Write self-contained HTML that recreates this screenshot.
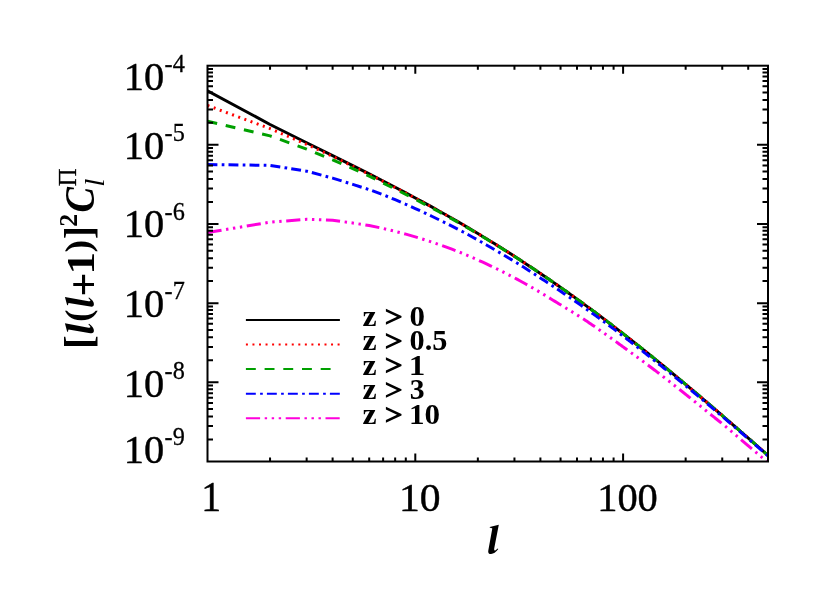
<!DOCTYPE html>
<html><head><meta charset="utf-8"><title>plot</title>
<style>
html,body{margin:0;padding:0;background:#fff;}
svg{display:block;will-change:transform;}
text{font-family:"Liberation Serif",serif;fill:#000;}
</style></head>
<body>
<svg width="830" height="593" viewBox="0 0 830 593">
<rect x="0" y="0" width="830" height="593" fill="#ffffff"/>
<defs><clipPath id="cp"><rect x="207.5" y="65.7" width="560.5" height="395.8"/></clipPath></defs>
<g clip-path="url(#cp)">
<path d="M207.50 90.70 L270.05 124.49 L306.65 142.77 L332.61 155.60 L352.75 165.62 L369.20 173.90 L383.11 181.01 L395.16 187.27 L405.79 192.87 L415.30 197.95 L423.90 202.62 L431.75 206.93 L438.98 210.96 L445.67 214.72 L451.89 218.27 L457.72 221.63 L463.19 224.81 L468.35 227.85 L473.22 230.74 L477.85 233.52 L482.26 236.18 L486.46 238.73 L490.47 241.19 L494.31 243.57 L497.99 245.86 L501.53 248.08 L504.94 250.23 L508.22 252.32 L511.39 254.34 L514.45 256.31 L517.40 258.23 L520.27 260.09 L523.05 261.91 L525.74 263.68 L528.36 265.41 L530.90 267.09 L533.37 268.74 L535.78 270.35 L538.12 271.93 L540.41 273.48 L542.64 274.99 L544.81 276.47 L546.93 277.92 L549.01 279.35 L551.04 280.75 L553.02 282.12 L554.96 283.47 L556.86 284.79 L558.72 286.09 L560.55 287.37 L562.33 288.63 L564.09 289.86 L565.80 291.08 L567.49 292.28 L569.15 293.46 L570.77 294.62 L572.37 295.76 L573.94 296.89 L575.48 298.00 L577.00 299.10 L578.49 300.18 L579.96 301.24 L581.40 302.29 L582.82 303.33 L584.22 304.35 L585.60 305.36 L586.96 306.36 L588.30 307.34 L589.61 308.31 L590.91 309.27 L592.19 310.22 L593.45 311.16 L594.70 312.08 L595.93 313.00 L597.14 313.90 L598.33 314.80 L599.51 315.68 L600.68 316.56 L601.83 317.42 L602.96 318.28 L604.08 319.12 L605.19 319.96 L606.28 320.79 L607.37 321.61 L608.43 322.42 L609.49 323.23 L610.53 324.02 L611.56 324.81 L612.58 325.59 L613.59 326.36 L614.59 327.13 L615.58 327.88 L616.55 328.64 L617.52 329.38 L618.47 330.12 L619.42 330.85 L620.35 331.57 L621.28 332.29 L622.19 333.00 L623.10 333.70 L624.00 334.40 L624.89 335.09 L625.77 335.78 L626.64 336.46 L627.50 337.14 L628.36 337.81 L629.21 338.47 L630.05 339.13 L630.88 339.78 L631.70 340.43 L632.52 341.08 L633.33 341.71 L634.13 342.35 L634.92 342.97 L635.71 343.60 L636.49 344.22 L637.27 344.83 L638.04 345.44 L638.80 346.04 L639.55 346.64 L640.30 347.24 L641.05 347.83 L641.78 348.42 L642.51 349.00 L643.24 349.58 L643.96 350.16 L644.67 350.73 L645.38 351.29 L646.08 351.86 L646.78 352.42 L647.47 352.97 L648.16 353.52 L648.84 354.07 L649.51 354.62 L650.18 355.16 L650.85 355.69 L651.51 356.23 L652.17 356.76 L652.82 357.28 L653.47 357.81 L654.11 358.33 L654.75 358.85 L655.38 359.36 L656.01 359.87 L656.63 360.38 L657.25 360.88 L657.87 361.38 L658.48 361.88 L659.09 362.38 L659.69 362.87 L660.29 363.36 L660.89 363.84 L661.48 364.33 L662.07 364.81 L662.65 365.28 L663.23 365.76 L663.81 366.23 L664.38 366.70 L664.95 367.17 L665.52 367.63 L666.08 368.10 L666.64 368.55 L667.19 369.01 L667.74 369.47 L668.29 369.92 L668.84 370.37 L669.38 370.81 L669.92 371.26 L670.45 371.70 L670.99 372.14 L671.52 372.58 L672.04 373.01 L672.57 373.44 L673.09 373.87 L673.60 374.30 L674.12 374.73 L674.63 375.15 L675.14 375.57 L675.64 375.99 L676.15 376.41 L676.65 376.83 L677.14 377.24 L677.64 377.65 L678.13 378.06 L678.62 378.47 L679.10 378.87 L679.59 379.28 L680.07 379.68 L680.55 380.08 L681.02 380.47 L681.50 380.87 L681.97 381.26 L682.44 381.65 L682.91 382.04 L683.37 382.43 L683.83 382.82 L684.29 383.20 L684.75 383.58 L685.20 383.97 L685.65 384.34 L686.10 384.72 L686.55 385.10 L687.00 385.47 L687.44 385.84 L687.88 386.21 L688.32 386.58 L688.76 386.95 L689.19 387.32 L689.63 387.68 L690.06 388.04 L690.49 388.40 L690.91 388.76 L691.34 389.12 L691.76 389.48 L692.18 389.83 L692.60 390.19 L693.02 390.54 L693.43 390.89 L693.84 391.24 L694.26 391.58 L694.66 391.93 L695.07 392.27 L695.48 392.62 L695.88 392.96 L696.28 393.30 L696.68 393.64 L697.08 393.98 L697.48 394.31 L697.87 394.65 L698.27 394.98 L698.66 395.31 L699.05 395.64 L699.44 395.97 L699.82 396.30 L700.21 396.63 L700.59 396.95 L700.97 397.28 L701.35 397.60 L701.73 397.92 L702.11 398.24 L702.48 398.56 L702.86 398.88 L703.23 399.19 L703.60 399.51 L703.97 399.82 L704.34 400.14 L704.70 400.45 L705.07 400.76 L705.43 401.07 L705.79 401.38 L706.15 401.69 L706.51 401.99 L706.87 402.30 L707.22 402.60 L707.58 402.90 L707.93 403.21 L708.28 403.51 L708.63 403.81 L708.98 404.10 L709.33 404.40 L709.68 404.70 L710.02 404.99 L710.37 405.29 L710.71 405.58 L711.05 405.87 L711.39 406.16 L711.73 406.45 L712.07 406.74 L712.40 407.03 L712.74 407.32 L713.07 407.60 L713.40 407.89 L713.73 408.17 L714.06 408.46 L714.39 408.74 L714.72 409.02 L715.05 409.30 L715.37 409.58 L715.70 409.86 L716.02 410.14 L716.34 410.41 L716.66 410.69 L716.98 410.96 L717.30 411.24 L717.62 411.51 L717.93 411.78 L718.25 412.05 L718.56 412.32 L718.87 412.59 L719.19 412.86 L719.50 413.13 L719.81 413.39 L720.12 413.66 L720.42 413.92 L720.73 414.19 L721.03 414.45 L721.34 414.71 L721.64 414.98 L721.94 415.24 L722.25 415.50 L722.55 415.76 L722.85 416.01 L723.14 416.27 L723.44 416.53 L723.74 416.78 L724.03 417.04 L724.33 417.29 L724.62 417.55 L724.91 417.80 L725.20 418.05 L725.50 418.30 L725.79 418.55 L726.07 418.80 L726.36 419.05 L726.65 419.30 L726.93 419.55 L727.22 419.79 L727.50 420.04 L727.79 420.28 L728.07 420.53 L728.35 420.77 L728.63 421.02 L728.91 421.26 L729.19 421.50 L729.47 421.74 L729.75 421.98 L730.02 422.22 L730.30 422.46 L730.57 422.70 L730.85 422.93 L731.12 423.17 L731.39 423.41 L731.66 423.64 L731.93 423.88 L732.20 424.11 L732.47 424.34 L732.74 424.58 L733.01 424.81 L733.28 425.04 L733.54 425.27 L733.81 425.50 L734.07 425.73 L734.33 425.96 L734.60 426.19 L734.86 426.42 L735.12 426.64 L735.38 426.87 L735.64 427.09 L735.90 427.32 L736.16 427.54 L736.41 427.77 L736.67 427.99 L736.93 428.21 L737.18 428.44 L737.44 428.66 L737.69 428.88 L737.94 429.10 L738.20 429.32 L738.45 429.54 L738.70 429.75 L738.95 429.97 L739.20 430.19 L739.45 430.41 L739.70 430.62 L739.94 430.84 L740.19 431.05 L740.44 431.27 L740.68 431.48 L740.93 431.69 L741.17 431.91 L741.42 432.12 L741.66 432.33 L741.90 432.54 L742.14 432.75 L742.38 432.96 L742.62 433.17 L742.86 433.38 L743.10 433.59 L743.34 433.80 L743.58 434.00 L743.82 434.21 L744.05 434.42 L744.29 434.62 L744.52 434.83 L744.76 435.03 L744.99 435.24 L745.23 435.44 L745.46 435.64 L745.69 435.85 L745.92 436.05 L746.15 436.25 L746.38 436.45 L746.61 436.65 L746.84 436.85 L747.07 437.05 L747.30 437.25 L747.53 437.45 L747.76 437.65 L747.98 437.85 L748.21 438.04 L748.43 438.24 L748.66 438.44 L748.88 438.63 L749.11 438.83 L749.33 439.02 L749.55 439.22 L749.77 439.41 L750.00 439.61 L750.22 439.80 L750.44 439.99 L750.66 440.18 L750.88 440.37 L751.09 440.57 L751.31 440.76 L751.53 440.95 L751.75 441.14 L751.96 441.33 L752.18 441.52 L752.40 441.70 L752.61 441.89 L752.83 442.08 L753.04 442.27 L753.25 442.45 L753.47 442.64 L753.68 442.83 L753.89 443.01 L754.10 443.20 L754.31 443.38 L754.52 443.57 L754.73 443.75 L754.94 443.93 L755.15 444.12 L755.36 444.30 L755.57 444.48 L755.78 444.66 L755.99 444.84 L756.19 445.03 L756.40 445.21 L756.60 445.39 L756.81 445.57 L757.01 445.75 L757.22 445.92 L757.42 446.10 L757.63 446.28 L757.83 446.46 L758.03 446.64 L758.23 446.81 L758.44 446.99 L758.64 447.17 L758.84 447.34 L759.04 447.52 L759.24 447.69 L759.44 447.87 L759.64 448.04 L759.83 448.22 L760.03 448.39 L760.23 448.56 L760.43 448.74 L760.62 448.91 L760.82 449.08 L761.02 449.25 L761.21 449.42 L761.41 449.59 L761.60 449.76 L761.80 449.93 L761.99 450.10 L762.18 450.27 L762.38 450.44 L762.57 450.61 L762.76 450.78 L762.95 450.95 L763.15 451.12 L763.34 451.28 L763.53 451.45 L763.72 451.62 L763.91 451.78 L764.10 451.95 L764.29 452.12 L764.47 452.28 L764.66 452.45 L764.85 452.61 L765.04 452.78 L765.22 452.94 L765.41 453.10 L765.60 453.27 L765.78 453.43 L765.97 453.59 L766.15 453.75 L766.34 453.92 L766.52 454.08 L766.71 454.24 L766.89 454.40 L767.07 454.56 L767.26 454.72 L767.44 454.88 L767.62 455.04 L767.80 455.20 L767.98 455.36 L768.17 455.52 L768.35 455.68" fill="none" stroke="#000000" stroke-width="3.0" stroke-linejoin="round"/>
<path d="M207.50 105.50 L270.05 128.59 L306.65 144.37 L332.61 156.38 L352.75 166.17 L369.20 174.30 L383.11 181.29 L395.16 187.48 L405.79 193.02 L415.30 198.07 L423.90 202.70 L431.75 206.99 L438.98 210.99 L445.67 214.74 L451.89 218.28 L457.72 221.63 L463.19 224.81 L468.35 227.85 L473.22 230.74 L477.85 233.52 L482.26 236.18 L486.46 238.73 L490.47 241.19 L494.31 243.57 L497.99 245.86 L501.53 248.08 L504.94 250.23 L508.22 252.32 L511.39 254.34 L514.45 256.31 L517.40 258.23 L520.27 260.09 L523.05 261.91 L525.74 263.68 L528.36 265.41 L530.90 267.09 L533.37 268.74 L535.78 270.35 L538.12 271.93 L540.41 273.48 L542.64 274.99 L544.81 276.47 L546.93 277.92 L549.01 279.35 L551.04 280.75 L553.02 282.12 L554.96 283.47 L556.86 284.79 L558.72 286.09 L560.55 287.37 L562.33 288.63 L564.09 289.86 L565.80 291.08 L567.49 292.28 L569.15 293.46 L570.77 294.62 L572.37 295.76 L573.94 296.89 L575.48 298.00 L577.00 299.10 L578.49 300.18 L579.96 301.24 L581.40 302.29 L582.82 303.33 L584.22 304.35 L585.60 305.36 L586.96 306.36 L588.30 307.34 L589.61 308.31 L590.91 309.27 L592.19 310.22 L593.45 311.16 L594.70 312.08 L595.93 313.00 L597.14 313.90 L598.33 314.80 L599.51 315.68 L600.68 316.56 L601.83 317.42 L602.96 318.28 L604.08 319.12 L605.19 319.96 L606.28 320.79 L607.37 321.61 L608.43 322.42 L609.49 323.23 L610.53 324.02 L611.56 324.81 L612.58 325.59 L613.59 326.36 L614.59 327.13 L615.58 327.88 L616.55 328.64 L617.52 329.38 L618.47 330.12 L619.42 330.85 L620.35 331.57 L621.28 332.29 L622.19 333.00 L623.10 333.70 L624.00 334.40 L624.89 335.09 L625.77 335.78 L626.64 336.46 L627.50 337.14 L628.36 337.81 L629.21 338.47 L630.05 339.13 L630.88 339.78 L631.70 340.43 L632.52 341.08 L633.33 341.71 L634.13 342.35 L634.92 342.97 L635.71 343.60 L636.49 344.22 L637.27 344.83 L638.04 345.44 L638.80 346.04 L639.55 346.64 L640.30 347.24 L641.05 347.83 L641.78 348.42 L642.51 349.00 L643.24 349.58 L643.96 350.16 L644.67 350.73 L645.38 351.29 L646.08 351.86 L646.78 352.42 L647.47 352.97 L648.16 353.52 L648.84 354.07 L649.51 354.62 L650.18 355.16 L650.85 355.69 L651.51 356.23 L652.17 356.76 L652.82 357.28 L653.47 357.81 L654.11 358.33 L654.75 358.85 L655.38 359.36 L656.01 359.87 L656.63 360.38 L657.25 360.88 L657.87 361.38 L658.48 361.88 L659.09 362.38 L659.69 362.87 L660.29 363.36 L660.89 363.84 L661.48 364.33 L662.07 364.81 L662.65 365.28 L663.23 365.76 L663.81 366.23 L664.38 366.70 L664.95 367.17 L665.52 367.63 L666.08 368.10 L666.64 368.55 L667.19 369.01 L667.74 369.47 L668.29 369.92 L668.84 370.37 L669.38 370.81 L669.92 371.26 L670.45 371.70 L670.99 372.14 L671.52 372.58 L672.04 373.01 L672.57 373.44 L673.09 373.87 L673.60 374.30 L674.12 374.73 L674.63 375.15 L675.14 375.57 L675.64 375.99 L676.15 376.41 L676.65 376.83 L677.14 377.24 L677.64 377.65 L678.13 378.06 L678.62 378.47 L679.10 378.87 L679.59 379.28 L680.07 379.68 L680.55 380.08 L681.02 380.47 L681.50 380.87 L681.97 381.26 L682.44 381.65 L682.91 382.04 L683.37 382.43 L683.83 382.82 L684.29 383.20 L684.75 383.58 L685.20 383.97 L685.65 384.34 L686.10 384.72 L686.55 385.10 L687.00 385.47 L687.44 385.84 L687.88 386.21 L688.32 386.58 L688.76 386.95 L689.19 387.32 L689.63 387.68 L690.06 388.04 L690.49 388.40 L690.91 388.76 L691.34 389.12 L691.76 389.48 L692.18 389.83 L692.60 390.19 L693.02 390.54 L693.43 390.89 L693.84 391.24 L694.26 391.58 L694.66 391.93 L695.07 392.27 L695.48 392.62 L695.88 392.96 L696.28 393.30 L696.68 393.64 L697.08 393.98 L697.48 394.31 L697.87 394.65 L698.27 394.98 L698.66 395.31 L699.05 395.64 L699.44 395.97 L699.82 396.30 L700.21 396.63 L700.59 396.95 L700.97 397.28 L701.35 397.60 L701.73 397.92 L702.11 398.24 L702.48 398.56 L702.86 398.88 L703.23 399.19 L703.60 399.51 L703.97 399.82 L704.34 400.14 L704.70 400.45 L705.07 400.76 L705.43 401.07 L705.79 401.38 L706.15 401.69 L706.51 401.99 L706.87 402.30 L707.22 402.60 L707.58 402.90 L707.93 403.21 L708.28 403.51 L708.63 403.81 L708.98 404.10 L709.33 404.40 L709.68 404.70 L710.02 404.99 L710.37 405.29 L710.71 405.58 L711.05 405.87 L711.39 406.16 L711.73 406.45 L712.07 406.74 L712.40 407.03 L712.74 407.32 L713.07 407.60 L713.40 407.89 L713.73 408.17 L714.06 408.46 L714.39 408.74 L714.72 409.02 L715.05 409.30 L715.37 409.58 L715.70 409.86 L716.02 410.14 L716.34 410.41 L716.66 410.69 L716.98 410.96 L717.30 411.24 L717.62 411.51 L717.93 411.78 L718.25 412.05 L718.56 412.32 L718.87 412.59 L719.19 412.86 L719.50 413.13 L719.81 413.39 L720.12 413.66 L720.42 413.92 L720.73 414.19 L721.03 414.45 L721.34 414.71 L721.64 414.98 L721.94 415.24 L722.25 415.50 L722.55 415.76 L722.85 416.01 L723.14 416.27 L723.44 416.53 L723.74 416.78 L724.03 417.04 L724.33 417.29 L724.62 417.55 L724.91 417.80 L725.20 418.05 L725.50 418.30 L725.79 418.55 L726.07 418.80 L726.36 419.05 L726.65 419.30 L726.93 419.55 L727.22 419.79 L727.50 420.04 L727.79 420.28 L728.07 420.53 L728.35 420.77 L728.63 421.02 L728.91 421.26 L729.19 421.50 L729.47 421.74 L729.75 421.98 L730.02 422.22 L730.30 422.46 L730.57 422.70 L730.85 422.93 L731.12 423.17 L731.39 423.41 L731.66 423.64 L731.93 423.88 L732.20 424.11 L732.47 424.34 L732.74 424.58 L733.01 424.81 L733.28 425.04 L733.54 425.27 L733.81 425.50 L734.07 425.73 L734.33 425.96 L734.60 426.19 L734.86 426.42 L735.12 426.64 L735.38 426.87 L735.64 427.09 L735.90 427.32 L736.16 427.54 L736.41 427.77 L736.67 427.99 L736.93 428.21 L737.18 428.44 L737.44 428.66 L737.69 428.88 L737.94 429.10 L738.20 429.32 L738.45 429.54 L738.70 429.75 L738.95 429.97 L739.20 430.19 L739.45 430.41 L739.70 430.62 L739.94 430.84 L740.19 431.05 L740.44 431.27 L740.68 431.48 L740.93 431.69 L741.17 431.91 L741.42 432.12 L741.66 432.33 L741.90 432.54 L742.14 432.75 L742.38 432.96 L742.62 433.17 L742.86 433.38 L743.10 433.59 L743.34 433.80 L743.58 434.00 L743.82 434.21 L744.05 434.42 L744.29 434.62 L744.52 434.83 L744.76 435.03 L744.99 435.24 L745.23 435.44 L745.46 435.64 L745.69 435.85 L745.92 436.05 L746.15 436.25 L746.38 436.45 L746.61 436.65 L746.84 436.85 L747.07 437.05 L747.30 437.25 L747.53 437.45 L747.76 437.65 L747.98 437.85 L748.21 438.04 L748.43 438.24 L748.66 438.44 L748.88 438.63 L749.11 438.83 L749.33 439.02 L749.55 439.22 L749.77 439.41 L750.00 439.61 L750.22 439.80 L750.44 439.99 L750.66 440.18 L750.88 440.37 L751.09 440.57 L751.31 440.76 L751.53 440.95 L751.75 441.14 L751.96 441.33 L752.18 441.52 L752.40 441.70 L752.61 441.89 L752.83 442.08 L753.04 442.27 L753.25 442.45 L753.47 442.64 L753.68 442.83 L753.89 443.01 L754.10 443.20 L754.31 443.38 L754.52 443.57 L754.73 443.75 L754.94 443.93 L755.15 444.12 L755.36 444.30 L755.57 444.48 L755.78 444.66 L755.99 444.84 L756.19 445.03 L756.40 445.21 L756.60 445.39 L756.81 445.57 L757.01 445.75 L757.22 445.92 L757.42 446.10 L757.63 446.28 L757.83 446.46 L758.03 446.64 L758.23 446.81 L758.44 446.99 L758.64 447.17 L758.84 447.34 L759.04 447.52 L759.24 447.69 L759.44 447.87 L759.64 448.04 L759.83 448.22 L760.03 448.39 L760.23 448.56 L760.43 448.74 L760.62 448.91 L760.82 449.08 L761.02 449.25 L761.21 449.42 L761.41 449.59 L761.60 449.76 L761.80 449.93 L761.99 450.10 L762.18 450.27 L762.38 450.44 L762.57 450.61 L762.76 450.78 L762.95 450.95 L763.15 451.12 L763.34 451.28 L763.53 451.45 L763.72 451.62 L763.91 451.78 L764.10 451.95 L764.29 452.12 L764.47 452.28 L764.66 452.45 L764.85 452.61 L765.04 452.78 L765.22 452.94 L765.41 453.10 L765.60 453.27 L765.78 453.43 L765.97 453.59 L766.15 453.75 L766.34 453.92 L766.52 454.08 L766.71 454.24 L766.89 454.40 L767.07 454.56 L767.26 454.72 L767.44 454.88 L767.62 455.04 L767.80 455.20 L767.98 455.36 L768.17 455.52 L768.35 455.68" fill="none" stroke="#ff0000" stroke-width="3.0" stroke-linejoin="round" stroke-dasharray="2 4.55"/>
<path d="M207.50 121.20 L270.05 135.89 L306.65 149.06 L332.61 159.83 L352.75 168.53 L369.20 176.12 L383.11 182.98 L395.16 189.01 L405.79 194.42 L415.30 199.34 L423.90 203.83 L431.75 207.93 L438.98 211.79 L445.67 215.44 L451.89 218.89 L457.72 222.16 L463.19 225.28 L468.35 228.25 L473.22 231.10 L477.85 233.83 L482.26 236.46 L486.46 238.99 L490.47 241.43 L494.31 243.78 L497.99 246.06 L501.53 248.26 L504.94 250.39 L508.22 252.46 L511.39 254.48 L514.45 256.43 L517.40 258.34 L520.27 260.19 L523.05 262.00 L525.74 263.76 L528.36 265.48 L530.90 267.16 L533.37 268.80 L535.78 270.40 L538.12 271.97 L540.41 273.51 L542.64 275.01 L544.81 276.49 L546.93 277.94 L549.01 279.36 L551.04 280.75 L553.02 282.12 L554.96 283.47 L556.86 284.79 L558.72 286.09 L560.55 287.37 L562.33 288.63 L564.09 289.86 L565.80 291.08 L567.49 292.28 L569.15 293.46 L570.77 294.62 L572.37 295.76 L573.94 296.89 L575.48 298.00 L577.00 299.10 L578.49 300.18 L579.96 301.24 L581.40 302.29 L582.82 303.33 L584.22 304.35 L585.60 305.36 L586.96 306.36 L588.30 307.34 L589.61 308.31 L590.91 309.27 L592.19 310.22 L593.45 311.16 L594.70 312.08 L595.93 313.00 L597.14 313.90 L598.33 314.80 L599.51 315.68 L600.68 316.56 L601.83 317.42 L602.96 318.28 L604.08 319.12 L605.19 319.96 L606.28 320.79 L607.37 321.61 L608.43 322.42 L609.49 323.23 L610.53 324.02 L611.56 324.81 L612.58 325.59 L613.59 326.36 L614.59 327.13 L615.58 327.88 L616.55 328.64 L617.52 329.38 L618.47 330.12 L619.42 330.85 L620.35 331.57 L621.28 332.29 L622.19 333.00 L623.10 333.70 L624.00 334.40 L624.89 335.09 L625.77 335.78 L626.64 336.46 L627.50 337.14 L628.36 337.81 L629.21 338.47 L630.05 339.13 L630.88 339.78 L631.70 340.43 L632.52 341.08 L633.33 341.71 L634.13 342.35 L634.92 342.97 L635.71 343.60 L636.49 344.22 L637.27 344.83 L638.04 345.44 L638.80 346.04 L639.55 346.64 L640.30 347.24 L641.05 347.83 L641.78 348.42 L642.51 349.00 L643.24 349.58 L643.96 350.16 L644.67 350.73 L645.38 351.29 L646.08 351.86 L646.78 352.42 L647.47 352.97 L648.16 353.52 L648.84 354.07 L649.51 354.62 L650.18 355.16 L650.85 355.69 L651.51 356.23 L652.17 356.76 L652.82 357.28 L653.47 357.81 L654.11 358.33 L654.75 358.85 L655.38 359.36 L656.01 359.87 L656.63 360.38 L657.25 360.88 L657.87 361.38 L658.48 361.88 L659.09 362.38 L659.69 362.87 L660.29 363.36 L660.89 363.84 L661.48 364.33 L662.07 364.81 L662.65 365.28 L663.23 365.76 L663.81 366.23 L664.38 366.70 L664.95 367.17 L665.52 367.63 L666.08 368.10 L666.64 368.55 L667.19 369.01 L667.74 369.47 L668.29 369.92 L668.84 370.37 L669.38 370.81 L669.92 371.26 L670.45 371.70 L670.99 372.14 L671.52 372.58 L672.04 373.01 L672.57 373.44 L673.09 373.87 L673.60 374.30 L674.12 374.73 L674.63 375.15 L675.14 375.57 L675.64 375.99 L676.15 376.41 L676.65 376.83 L677.14 377.24 L677.64 377.65 L678.13 378.06 L678.62 378.47 L679.10 378.87 L679.59 379.28 L680.07 379.68 L680.55 380.08 L681.02 380.47 L681.50 380.87 L681.97 381.26 L682.44 381.65 L682.91 382.04 L683.37 382.43 L683.83 382.82 L684.29 383.20 L684.75 383.58 L685.20 383.97 L685.65 384.34 L686.10 384.72 L686.55 385.10 L687.00 385.47 L687.44 385.84 L687.88 386.21 L688.32 386.58 L688.76 386.95 L689.19 387.32 L689.63 387.68 L690.06 388.04 L690.49 388.40 L690.91 388.76 L691.34 389.12 L691.76 389.48 L692.18 389.83 L692.60 390.19 L693.02 390.54 L693.43 390.89 L693.84 391.24 L694.26 391.58 L694.66 391.93 L695.07 392.27 L695.48 392.62 L695.88 392.96 L696.28 393.30 L696.68 393.64 L697.08 393.98 L697.48 394.31 L697.87 394.65 L698.27 394.98 L698.66 395.31 L699.05 395.64 L699.44 395.97 L699.82 396.30 L700.21 396.63 L700.59 396.95 L700.97 397.28 L701.35 397.60 L701.73 397.92 L702.11 398.24 L702.48 398.56 L702.86 398.88 L703.23 399.19 L703.60 399.51 L703.97 399.82 L704.34 400.14 L704.70 400.45 L705.07 400.76 L705.43 401.07 L705.79 401.38 L706.15 401.69 L706.51 401.99 L706.87 402.30 L707.22 402.60 L707.58 402.90 L707.93 403.21 L708.28 403.51 L708.63 403.81 L708.98 404.10 L709.33 404.40 L709.68 404.70 L710.02 404.99 L710.37 405.29 L710.71 405.58 L711.05 405.87 L711.39 406.16 L711.73 406.45 L712.07 406.74 L712.40 407.03 L712.74 407.32 L713.07 407.60 L713.40 407.89 L713.73 408.17 L714.06 408.46 L714.39 408.74 L714.72 409.02 L715.05 409.30 L715.37 409.58 L715.70 409.86 L716.02 410.14 L716.34 410.41 L716.66 410.69 L716.98 410.96 L717.30 411.24 L717.62 411.51 L717.93 411.78 L718.25 412.05 L718.56 412.32 L718.87 412.59 L719.19 412.86 L719.50 413.13 L719.81 413.39 L720.12 413.66 L720.42 413.92 L720.73 414.19 L721.03 414.45 L721.34 414.71 L721.64 414.98 L721.94 415.24 L722.25 415.50 L722.55 415.76 L722.85 416.01 L723.14 416.27 L723.44 416.53 L723.74 416.78 L724.03 417.04 L724.33 417.29 L724.62 417.55 L724.91 417.80 L725.20 418.05 L725.50 418.30 L725.79 418.55 L726.07 418.80 L726.36 419.05 L726.65 419.30 L726.93 419.55 L727.22 419.79 L727.50 420.04 L727.79 420.28 L728.07 420.53 L728.35 420.77 L728.63 421.02 L728.91 421.26 L729.19 421.50 L729.47 421.74 L729.75 421.98 L730.02 422.22 L730.30 422.46 L730.57 422.70 L730.85 422.93 L731.12 423.17 L731.39 423.41 L731.66 423.64 L731.93 423.88 L732.20 424.11 L732.47 424.34 L732.74 424.58 L733.01 424.81 L733.28 425.04 L733.54 425.27 L733.81 425.50 L734.07 425.73 L734.33 425.96 L734.60 426.19 L734.86 426.42 L735.12 426.64 L735.38 426.87 L735.64 427.09 L735.90 427.32 L736.16 427.54 L736.41 427.77 L736.67 427.99 L736.93 428.21 L737.18 428.44 L737.44 428.66 L737.69 428.88 L737.94 429.10 L738.20 429.32 L738.45 429.54 L738.70 429.75 L738.95 429.97 L739.20 430.19 L739.45 430.41 L739.70 430.62 L739.94 430.84 L740.19 431.05 L740.44 431.27 L740.68 431.48 L740.93 431.69 L741.17 431.91 L741.42 432.12 L741.66 432.33 L741.90 432.54 L742.14 432.75 L742.38 432.96 L742.62 433.17 L742.86 433.38 L743.10 433.59 L743.34 433.80 L743.58 434.00 L743.82 434.21 L744.05 434.42 L744.29 434.62 L744.52 434.83 L744.76 435.03 L744.99 435.24 L745.23 435.44 L745.46 435.64 L745.69 435.85 L745.92 436.05 L746.15 436.25 L746.38 436.45 L746.61 436.65 L746.84 436.85 L747.07 437.05 L747.30 437.25 L747.53 437.45 L747.76 437.65 L747.98 437.85 L748.21 438.04 L748.43 438.24 L748.66 438.44 L748.88 438.63 L749.11 438.83 L749.33 439.02 L749.55 439.22 L749.77 439.41 L750.00 439.61 L750.22 439.80 L750.44 439.99 L750.66 440.18 L750.88 440.37 L751.09 440.57 L751.31 440.76 L751.53 440.95 L751.75 441.14 L751.96 441.33 L752.18 441.52 L752.40 441.70 L752.61 441.89 L752.83 442.08 L753.04 442.27 L753.25 442.45 L753.47 442.64 L753.68 442.83 L753.89 443.01 L754.10 443.20 L754.31 443.38 L754.52 443.57 L754.73 443.75 L754.94 443.93 L755.15 444.12 L755.36 444.30 L755.57 444.48 L755.78 444.66 L755.99 444.84 L756.19 445.03 L756.40 445.21 L756.60 445.39 L756.81 445.57 L757.01 445.75 L757.22 445.92 L757.42 446.10 L757.63 446.28 L757.83 446.46 L758.03 446.64 L758.23 446.81 L758.44 446.99 L758.64 447.17 L758.84 447.34 L759.04 447.52 L759.24 447.69 L759.44 447.87 L759.64 448.04 L759.83 448.22 L760.03 448.39 L760.23 448.56 L760.43 448.74 L760.62 448.91 L760.82 449.08 L761.02 449.25 L761.21 449.42 L761.41 449.59 L761.60 449.76 L761.80 449.93 L761.99 450.10 L762.18 450.27 L762.38 450.44 L762.57 450.61 L762.76 450.78 L762.95 450.95 L763.15 451.12 L763.34 451.28 L763.53 451.45 L763.72 451.62 L763.91 451.78 L764.10 451.95 L764.29 452.12 L764.47 452.28 L764.66 452.45 L764.85 452.61 L765.04 452.78 L765.22 452.94 L765.41 453.10 L765.60 453.27 L765.78 453.43 L765.97 453.59 L766.15 453.75 L766.34 453.92 L766.52 454.08 L766.71 454.24 L766.89 454.40 L767.07 454.56 L767.26 454.72 L767.44 454.88 L767.62 455.04 L767.80 455.20 L767.98 455.36 L768.17 455.52 L768.35 455.68" fill="none" stroke="#00a000" stroke-width="3.0" stroke-linejoin="round" stroke-dasharray="9.9 8.8"/>
<path d="M207.50 164.50 L270.05 165.39 L306.65 171.17 L332.61 178.13 L352.75 184.38 L369.20 189.60 L383.11 194.77 L395.16 199.73 L405.79 204.28 L415.30 208.51 L423.90 212.51 L431.75 216.25 L438.98 219.74 L445.67 223.01 L451.89 226.13 L457.72 229.13 L463.19 232.02 L468.35 234.79 L473.22 237.46 L477.85 240.04 L482.26 242.53 L486.46 244.93 L490.47 247.24 L494.31 249.47 L497.99 251.63 L501.53 253.72 L504.94 255.75 L508.22 257.71 L511.39 259.63 L514.45 261.49 L517.40 263.30 L520.27 265.08 L523.05 266.80 L525.74 268.50 L528.36 270.15 L530.90 271.77 L533.37 273.36 L535.78 274.92 L538.12 276.44 L540.41 277.94 L542.64 279.40 L544.81 280.83 L546.93 282.22 L549.01 283.59 L551.04 284.93 L553.02 286.25 L554.96 287.54 L556.86 288.81 L558.72 290.05 L560.55 291.28 L562.33 292.48 L564.09 293.66 L565.80 294.83 L567.49 295.97 L569.15 297.10 L570.77 298.21 L572.37 299.30 L573.94 300.38 L575.48 301.45 L577.00 302.50 L578.49 303.53 L579.96 304.55 L581.40 305.56 L582.82 306.56 L584.22 307.54 L585.60 308.51 L586.96 309.47 L588.30 310.42 L589.61 311.36 L590.91 312.28 L592.19 313.20 L593.45 314.10 L594.70 315.00 L595.93 315.89 L597.14 316.76 L598.33 317.63 L599.51 318.49 L600.68 319.34 L601.83 320.19 L602.96 321.02 L604.08 321.84 L605.19 322.66 L606.28 323.47 L607.37 324.27 L608.43 325.06 L609.49 325.85 L610.53 326.62 L611.56 327.39 L612.58 328.16 L613.59 328.91 L614.59 329.66 L615.58 330.40 L616.55 331.14 L617.52 331.87 L618.47 332.59 L619.42 333.30 L620.35 334.01 L621.28 334.72 L622.19 335.41 L623.10 336.10 L624.00 336.79 L624.89 337.47 L625.77 338.14 L626.64 338.81 L627.50 339.47 L628.36 340.13 L629.21 340.78 L630.05 341.43 L630.88 342.07 L631.70 342.70 L632.52 343.34 L633.33 343.96 L634.13 344.58 L634.92 345.20 L635.71 345.81 L636.49 346.42 L637.27 347.02 L638.04 347.62 L638.80 348.21 L639.55 348.80 L640.30 349.39 L641.05 349.97 L641.78 350.54 L642.51 351.12 L643.24 351.68 L643.96 352.25 L644.67 352.81 L645.38 353.37 L646.08 353.92 L646.78 354.47 L647.47 355.01 L648.16 355.55 L648.84 356.09 L649.51 356.62 L650.18 357.15 L650.85 357.68 L651.51 358.20 L652.17 358.72 L652.82 359.24 L653.47 359.75 L654.11 360.26 L654.75 360.77 L655.38 361.27 L656.01 361.77 L656.63 362.27 L657.25 362.76 L657.87 363.26 L658.48 363.74 L659.09 364.23 L659.69 364.71 L660.29 365.19 L660.89 365.67 L661.48 366.14 L662.07 366.61 L662.65 367.08 L663.23 367.55 L663.81 368.01 L664.38 368.47 L664.95 368.93 L665.52 369.38 L666.08 369.83 L666.64 370.28 L667.19 370.73 L667.74 371.18 L668.29 371.62 L668.84 372.06 L669.38 372.50 L669.92 372.93 L670.45 373.36 L670.99 373.80 L671.52 374.22 L672.04 374.65 L672.57 375.07 L673.09 375.50 L673.60 375.92 L674.12 376.33 L674.63 376.75 L675.14 377.16 L675.64 377.57 L676.15 377.98 L676.65 378.39 L677.14 378.79 L677.64 379.20 L678.13 379.60 L678.62 380.00 L679.10 380.39 L679.59 380.79 L680.07 381.18 L680.55 381.57 L681.02 381.96 L681.50 382.35 L681.97 382.74 L682.44 383.12 L682.91 383.50 L683.37 383.88 L683.83 384.26 L684.29 384.64 L684.75 385.02 L685.20 385.39 L685.65 385.76 L686.10 386.13 L686.55 386.50 L687.00 386.87 L687.44 387.23 L687.88 387.60 L688.32 387.96 L688.76 388.32 L689.19 388.68 L689.63 389.03 L690.06 389.39 L690.49 389.74 L690.91 390.10 L691.34 390.45 L691.76 390.80 L692.18 391.15 L692.60 391.49 L693.02 391.84 L693.43 392.18 L693.84 392.52 L694.26 392.87 L694.66 393.21 L695.07 393.54 L695.48 393.88 L695.88 394.22 L696.28 394.55 L696.68 394.88 L697.08 395.21 L697.48 395.54 L697.87 395.87 L698.27 396.20 L698.66 396.53 L699.05 396.85 L699.44 397.18 L699.82 397.50 L700.21 397.82 L700.59 398.14 L700.97 398.46 L701.35 398.78 L701.73 399.09 L702.11 399.41 L702.48 399.72 L702.86 400.03 L703.23 400.35 L703.60 400.66 L703.97 400.97 L704.34 401.27 L704.70 401.58 L705.07 401.89 L705.43 402.19 L705.79 402.49 L706.15 402.80 L706.51 403.10 L706.87 403.40 L707.22 403.70 L707.58 404.00 L707.93 404.29 L708.28 404.59 L708.63 404.88 L708.98 405.18 L709.33 405.47 L709.68 405.76 L710.02 406.05 L710.37 406.34 L710.71 406.63 L711.05 406.92 L711.39 407.21 L711.73 407.49 L712.07 407.78 L712.40 408.06 L712.74 408.35 L713.07 408.63 L713.40 408.91 L713.73 409.19 L714.06 409.47 L714.39 409.75 L714.72 410.02 L715.05 410.30 L715.37 410.58 L715.70 410.85 L716.02 411.12 L716.34 411.40 L716.66 411.67 L716.98 411.94 L717.30 412.21 L717.62 412.48 L717.93 412.75 L718.25 413.01 L718.56 413.28 L718.87 413.55 L719.19 413.81 L719.50 414.08 L719.81 414.34 L720.12 414.60 L720.42 414.86 L720.73 415.12 L721.03 415.38 L721.34 415.64 L721.64 415.90 L721.94 416.16 L722.25 416.41 L722.55 416.67 L722.85 416.92 L723.14 417.18 L723.44 417.43 L723.74 417.68 L724.03 417.94 L724.33 418.19 L724.62 418.44 L724.91 418.69 L725.20 418.94 L725.50 419.18 L725.79 419.43 L726.07 419.68 L726.36 419.92 L726.65 420.17 L726.93 420.41 L727.22 420.66 L727.50 420.90 L727.79 421.14 L728.07 421.38 L728.35 421.62 L728.63 421.86 L728.91 422.10 L729.19 422.34 L729.47 422.58 L729.75 422.82 L730.02 423.05 L730.30 423.29 L730.57 423.52 L730.85 423.76 L731.12 423.99 L731.39 424.23 L731.66 424.46 L731.93 424.69 L732.20 424.92 L732.47 425.15 L732.74 425.38 L733.01 425.61 L733.28 425.84 L733.54 426.07 L733.81 426.30 L734.07 426.52 L734.33 426.75 L734.60 426.97 L734.86 427.20 L735.12 427.42 L735.38 427.65 L735.64 427.87 L735.90 428.09 L736.16 428.31 L736.41 428.54 L736.67 428.76 L736.93 428.98 L737.18 429.20 L737.44 429.41 L737.69 429.63 L737.94 429.85 L738.20 430.07 L738.45 430.28 L738.70 430.50 L738.95 430.72 L739.20 430.93 L739.45 431.14 L739.70 431.36 L739.94 431.57 L740.19 431.78 L740.44 432.00 L740.68 432.21 L740.93 432.42 L741.17 432.63 L741.42 432.84 L741.66 433.05 L741.90 433.26 L742.14 433.46 L742.38 433.67 L742.62 433.88 L742.86 434.09 L743.10 434.29 L743.34 434.50 L743.58 434.70 L743.82 434.91 L744.05 435.11 L744.29 435.32 L744.52 435.52 L744.76 435.72 L744.99 435.92 L745.23 436.12 L745.46 436.33 L745.69 436.53 L745.92 436.73 L746.15 436.93 L746.38 437.12 L746.61 437.32 L746.84 437.52 L747.07 437.72 L747.30 437.92 L747.53 438.11 L747.76 438.31 L747.98 438.50 L748.21 438.70 L748.43 438.90 L748.66 439.09 L748.88 439.28 L749.11 439.48 L749.33 439.67 L749.55 439.86 L749.77 440.05 L750.00 440.25 L750.22 440.44 L750.44 440.63 L750.66 440.82 L750.88 441.01 L751.09 441.20 L751.31 441.39 L751.53 441.57 L751.75 441.76 L751.96 441.95 L752.18 442.14 L752.40 442.32 L752.61 442.51 L752.83 442.70 L753.04 442.88 L753.25 443.07 L753.47 443.25 L753.68 443.44 L753.89 443.62 L754.10 443.80 L754.31 443.99 L754.52 444.17 L754.73 444.35 L754.94 444.53 L755.15 444.71 L755.36 444.89 L755.57 445.07 L755.78 445.25 L755.99 445.43 L756.19 445.61 L756.40 445.79 L756.60 445.97 L756.81 446.15 L757.01 446.33 L757.22 446.50 L757.42 446.68 L757.63 446.86 L757.83 447.03 L758.03 447.21 L758.23 447.38 L758.44 447.56 L758.64 447.73 L758.84 447.91 L759.04 448.08 L759.24 448.26 L759.44 448.43 L759.64 448.60 L759.83 448.77 L760.03 448.95 L760.23 449.12 L760.43 449.29 L760.62 449.46 L760.82 449.63 L761.02 449.80 L761.21 449.97 L761.41 450.14 L761.60 450.31 L761.80 450.48 L761.99 450.65 L762.18 450.82 L762.38 450.98 L762.57 451.15 L762.76 451.32 L762.95 451.48 L763.15 451.65 L763.34 451.82 L763.53 451.98 L763.72 452.15 L763.91 452.31 L764.10 452.48 L764.29 452.64 L764.47 452.81 L764.66 452.97 L764.85 453.13 L765.04 453.30 L765.22 453.46 L765.41 453.62 L765.60 453.78 L765.78 453.94 L765.97 454.11 L766.15 454.27 L766.34 454.43 L766.52 454.59 L766.71 454.75 L766.89 454.91 L767.07 455.07 L767.26 455.23 L767.44 455.39 L767.62 455.54 L767.80 455.70 L767.98 455.86 L768.17 456.02 L768.35 456.17" fill="none" stroke="#0000ff" stroke-width="3.0" stroke-linejoin="round" stroke-dasharray="9.9 4.3 2.7 4.1"/>
<path d="M207.50 232.50 L270.05 222.20 L306.65 219.30 L332.61 220.20 L352.75 223.00 L369.20 225.56 L383.11 228.43 L395.16 231.36 L405.79 234.15 L415.30 236.88 L423.90 239.54 L431.75 242.05 L438.98 244.48 L445.67 246.86 L451.89 249.17 L457.72 251.44 L463.19 253.66 L468.35 255.82 L473.22 257.92 L477.85 259.97 L482.26 261.97 L486.46 263.91 L490.47 265.81 L494.31 267.66 L497.99 269.47 L501.53 271.23 L504.94 272.94 L508.22 274.62 L511.39 276.26 L514.45 277.86 L517.40 279.44 L520.27 280.98 L523.05 282.50 L525.74 283.99 L528.36 285.46 L530.90 286.91 L533.37 288.34 L535.78 289.74 L538.12 291.13 L540.41 292.49 L542.64 293.83 L544.81 295.15 L546.93 296.45 L549.01 297.72 L551.04 298.96 L553.02 300.18 L554.96 301.38 L556.86 302.55 L558.72 303.70 L560.55 304.82 L562.33 305.92 L564.09 306.99 L565.80 308.04 L567.49 309.07 L569.15 310.08 L570.77 311.08 L572.37 312.06 L573.94 313.03 L575.48 313.99 L577.00 314.93 L578.49 315.87 L579.96 316.80 L581.40 317.72 L582.82 318.64 L584.22 319.55 L585.60 320.45 L586.96 321.35 L588.30 322.25 L589.61 323.14 L590.91 324.02 L592.19 324.89 L593.45 325.75 L594.70 326.61 L595.93 327.45 L597.14 328.29 L598.33 329.12 L599.51 329.95 L600.68 330.76 L601.83 331.57 L602.96 332.37 L604.08 333.16 L605.19 333.95 L606.28 334.73 L607.37 335.50 L608.43 336.26 L609.49 337.01 L610.53 337.76 L611.56 338.50 L612.58 339.24 L613.59 339.96 L614.59 340.68 L615.58 341.40 L616.55 342.10 L617.52 342.80 L618.47 343.49 L619.42 344.18 L620.35 344.86 L621.28 345.53 L622.19 346.20 L623.10 346.86 L624.00 347.52 L624.89 348.16 L625.77 348.81 L626.64 349.44 L627.50 350.07 L628.36 350.70 L629.21 351.32 L630.05 351.93 L630.88 352.53 L631.70 353.14 L632.52 353.73 L633.33 354.32 L634.13 354.91 L634.92 355.49 L635.71 356.06 L636.49 356.63 L637.27 357.20 L638.04 357.76 L638.80 358.32 L639.55 358.87 L640.30 359.42 L641.05 359.97 L641.78 360.51 L642.51 361.05 L643.24 361.58 L643.96 362.11 L644.67 362.64 L645.38 363.16 L646.08 363.68 L646.78 364.20 L647.47 364.72 L648.16 365.23 L648.84 365.74 L649.51 366.24 L650.18 366.75 L650.85 367.25 L651.51 367.75 L652.17 368.24 L652.82 368.74 L653.47 369.23 L654.11 369.72 L654.75 370.20 L655.38 370.68 L656.01 371.16 L656.63 371.64 L657.25 372.11 L657.87 372.59 L658.48 373.06 L659.09 373.52 L659.69 373.99 L660.29 374.45 L660.89 374.91 L661.48 375.36 L662.07 375.82 L662.65 376.27 L663.23 376.72 L663.81 377.16 L664.38 377.61 L664.95 378.05 L665.52 378.49 L666.08 378.92 L666.64 379.36 L667.19 379.79 L667.74 380.22 L668.29 380.65 L668.84 381.07 L669.38 381.50 L669.92 381.92 L670.45 382.34 L670.99 382.75 L671.52 383.17 L672.04 383.58 L672.57 383.99 L673.09 384.40 L673.60 384.81 L674.12 385.21 L674.63 385.61 L675.14 386.01 L675.64 386.41 L676.15 386.81 L676.65 387.20 L677.14 387.59 L677.64 387.98 L678.13 388.37 L678.62 388.76 L679.10 389.14 L679.59 389.53 L680.07 389.91 L680.55 390.29 L681.02 390.66 L681.50 391.04 L681.97 391.41 L682.44 391.78 L682.91 392.15 L683.37 392.52 L683.83 392.89 L684.29 393.25 L684.75 393.62 L685.20 393.98 L685.65 394.34 L686.10 394.69 L686.55 395.05 L687.00 395.40 L687.44 395.76 L687.88 396.11 L688.32 396.46 L688.76 396.81 L689.19 397.15 L689.63 397.50 L690.06 397.84 L690.49 398.18 L690.91 398.52 L691.34 398.86 L691.76 399.20 L692.18 399.54 L692.60 399.87 L693.02 400.21 L693.43 400.54 L693.84 400.87 L694.26 401.20 L694.66 401.53 L695.07 401.85 L695.48 402.18 L695.88 402.50 L696.28 402.83 L696.68 403.15 L697.08 403.47 L697.48 403.79 L697.87 404.11 L698.27 404.43 L698.66 404.74 L699.05 405.06 L699.44 405.37 L699.82 405.68 L700.21 405.99 L700.59 406.30 L700.97 406.61 L701.35 406.91 L701.73 407.22 L702.11 407.52 L702.48 407.83 L702.86 408.13 L703.23 408.43 L703.60 408.73 L703.97 409.03 L704.34 409.33 L704.70 409.62 L705.07 409.92 L705.43 410.21 L705.79 410.50 L706.15 410.79 L706.51 411.08 L706.87 411.37 L707.22 411.66 L707.58 411.95 L707.93 412.23 L708.28 412.52 L708.63 412.80 L708.98 413.08 L709.33 413.36 L709.68 413.64 L710.02 413.92 L710.37 414.20 L710.71 414.48 L711.05 414.75 L711.39 415.02 L711.73 415.30 L712.07 415.57 L712.40 415.84 L712.74 416.11 L713.07 416.38 L713.40 416.65 L713.73 416.91 L714.06 417.18 L714.39 417.44 L714.72 417.71 L715.05 417.97 L715.37 418.23 L715.70 418.49 L716.02 418.74 L716.34 419.00 L716.66 419.25 L716.98 419.50 L717.30 419.75 L717.62 420.00 L717.93 420.25 L718.25 420.49 L718.56 420.74 L718.87 420.99 L719.19 421.23 L719.50 421.47 L719.81 421.72 L720.12 421.96 L720.42 422.21 L720.73 422.45 L721.03 422.69 L721.34 422.94 L721.64 423.18 L721.94 423.42 L722.25 423.67 L722.55 423.91 L722.85 424.15 L723.14 424.40 L723.44 424.64 L723.74 424.89 L724.03 425.14 L724.33 425.38 L724.62 425.63 L724.91 425.88 L725.20 426.12 L725.50 426.37 L725.79 426.61 L726.07 426.85 L726.36 427.10 L726.65 427.34 L726.93 427.58 L727.22 427.82 L727.50 428.06 L727.79 428.30 L728.07 428.54 L728.35 428.78 L728.63 429.02 L728.91 429.26 L729.19 429.50 L729.47 429.73 L729.75 429.97 L730.02 430.20 L730.30 430.44 L730.57 430.67 L730.85 430.91 L731.12 431.14 L731.39 431.37 L731.66 431.61 L731.93 431.84 L732.20 432.07 L732.47 432.30 L732.74 432.53 L733.01 432.76 L733.28 432.98 L733.54 433.21 L733.81 433.44 L734.07 433.67 L734.33 433.89 L734.60 434.12 L734.86 434.34 L735.12 434.57 L735.38 434.79 L735.64 435.01 L735.90 435.23 L736.16 435.46 L736.41 435.68 L736.67 435.90 L736.93 436.12 L737.18 436.34 L737.44 436.56 L737.69 436.77 L737.94 436.99 L738.20 437.21 L738.45 437.42 L738.70 437.64 L738.95 437.85 L739.20 438.07 L739.45 438.28 L739.70 438.50 L739.94 438.71 L740.19 438.92 L740.44 439.13 L740.68 439.34 L740.93 439.55 L741.17 439.76 L741.42 439.97 L741.66 440.18 L741.90 440.39 L742.14 440.59 L742.38 440.80 L742.62 441.00 L742.86 441.21 L743.10 441.41 L743.34 441.62 L743.58 441.82 L743.82 442.02 L744.05 442.23 L744.29 442.43 L744.52 442.63 L744.76 442.83 L744.99 443.03 L745.23 443.23 L745.46 443.43 L745.69 443.62 L745.92 443.82 L746.15 444.02 L746.38 444.21 L746.61 444.41 L746.84 444.60 L747.07 444.80 L747.30 444.99 L747.53 445.18 L747.76 445.37 L747.98 445.57 L748.21 445.76 L748.43 445.95 L748.66 446.14 L748.88 446.33 L749.11 446.52 L749.33 446.70 L749.55 446.89 L749.77 447.08 L750.00 447.27 L750.22 447.45 L750.44 447.64 L750.66 447.83 L750.88 448.01 L751.09 448.20 L751.31 448.38 L751.53 448.56 L751.75 448.75 L751.96 448.93 L752.18 449.11 L752.40 449.29 L752.61 449.48 L752.83 449.66 L753.04 449.84 L753.25 450.02 L753.47 450.20 L753.68 450.38 L753.89 450.56 L754.10 450.74 L754.31 450.92 L754.52 451.09 L754.73 451.27 L754.94 451.45 L755.15 451.63 L755.36 451.80 L755.57 451.98 L755.78 452.16 L755.99 452.33 L756.19 452.51 L756.40 452.68 L756.60 452.86 L756.81 453.03 L757.01 453.21 L757.22 453.38 L757.42 453.55 L757.63 453.73 L757.83 453.90 L758.03 454.07 L758.23 454.25 L758.44 454.42 L758.64 454.59 L758.84 454.76 L759.04 454.93 L759.24 455.11 L759.44 455.28 L759.64 455.45 L759.83 455.62 L760.03 455.79 L760.23 455.96 L760.43 456.13 L760.62 456.30 L760.82 456.47 L761.02 456.64 L761.21 456.80 L761.41 456.97 L761.60 457.14 L761.80 457.31 L761.99 457.47 L762.18 457.64 L762.38 457.81 L762.57 457.97 L762.76 458.14 L762.95 458.30 L763.15 458.47 L763.34 458.63 L763.53 458.80 L763.72 458.96 L763.91 459.13 L764.10 459.29 L764.29 459.45 L764.47 459.62 L764.66 459.78 L764.85 459.94 L765.04 460.10 L765.22 460.27 L765.41 460.43 L765.60 460.59 L765.78 460.75 L765.97 460.91 L766.15 461.07 L766.34 461.23 L766.52 461.39 L766.71 461.55 L766.89 461.71 L767.07 461.87 L767.26 462.03 L767.44 462.19 L767.62 462.34 L767.80 462.50 L767.98 462.66 L768.17 462.82 L768.35 462.97" fill="none" stroke="#ff00dc" stroke-width="3.0" stroke-linejoin="round" stroke-dasharray="14.2 4.6 2.4 4.6 2.4 4.6 2.4 4.6"/>
</g>
<path d="M270.05 461.50L270.05 457.50 M270.05 65.70L270.05 69.70 M306.65 461.50L306.65 457.50 M306.65 65.70L306.65 69.70 M332.61 461.50L332.61 457.50 M332.61 65.70L332.61 69.70 M352.75 461.50L352.75 457.50 M352.75 65.70L352.75 69.70 M369.20 461.50L369.20 457.50 M369.20 65.70L369.20 69.70 M383.11 461.50L383.11 457.50 M383.11 65.70L383.11 69.70 M395.16 461.50L395.16 457.50 M395.16 65.70L395.16 69.70 M405.79 461.50L405.79 457.50 M405.79 65.70L405.79 69.70 M415.30 461.50L415.30 453.50 M415.30 65.70L415.30 73.70 M477.85 461.50L477.85 457.50 M477.85 65.70L477.85 69.70 M514.45 461.50L514.45 457.50 M514.45 65.70L514.45 69.70 M540.41 461.50L540.41 457.50 M540.41 65.70L540.41 69.70 M560.55 461.50L560.55 457.50 M560.55 65.70L560.55 69.70 M577.00 461.50L577.00 457.50 M577.00 65.70L577.00 69.70 M590.91 461.50L590.91 457.50 M590.91 65.70L590.91 69.70 M602.96 461.50L602.96 457.50 M602.96 65.70L602.96 69.70 M613.59 461.50L613.59 457.50 M613.59 65.70L613.59 69.70 M623.10 461.50L623.10 453.50 M623.10 65.70L623.10 73.70 M685.65 461.50L685.65 457.50 M685.65 65.70L685.65 69.70 M722.25 461.50L722.25 457.50 M722.25 65.70L722.25 69.70 M748.21 461.50L748.21 457.50 M748.21 65.70L748.21 69.70 M207.50 68.94L213.00 68.94 M768.00 68.94L762.50 68.94 M207.50 72.52L213.00 72.52 M768.00 72.52L762.50 72.52 M207.50 76.52L213.00 76.52 M768.00 76.52L762.50 76.52 M207.50 81.04L213.00 81.04 M768.00 81.04L762.50 81.04 M207.50 86.25L213.00 86.25 M768.00 86.25L762.50 86.25 M207.50 92.40L213.00 92.40 M768.00 92.40L762.50 92.40 M207.50 99.88L213.00 99.88 M768.00 99.88L762.50 99.88 M207.50 109.46L213.00 109.46 M768.00 109.46L762.50 109.46 M207.50 122.79L213.00 122.79 M768.00 122.79L762.50 122.79 M207.50 144.86L218.50 144.86 M768.00 144.86L757.00 144.86 M207.50 148.10L213.00 148.10 M768.00 148.10L762.50 148.10 M207.50 151.68L213.00 151.68 M768.00 151.68L762.50 151.68 M207.50 155.68L213.00 155.68 M768.00 155.68L762.50 155.68 M207.50 160.20L213.00 160.20 M768.00 160.20L762.50 160.20 M207.50 165.41L213.00 165.41 M768.00 165.41L762.50 165.41 M207.50 171.56L213.00 171.56 M768.00 171.56L762.50 171.56 M207.50 179.04L213.00 179.04 M768.00 179.04L762.50 179.04 M207.50 188.62L213.00 188.62 M768.00 188.62L762.50 188.62 M207.50 201.95L213.00 201.95 M768.00 201.95L762.50 201.95 M207.50 224.02L218.50 224.02 M768.00 224.02L757.00 224.02 M207.50 227.26L213.00 227.26 M768.00 227.26L762.50 227.26 M207.50 230.84L213.00 230.84 M768.00 230.84L762.50 230.84 M207.50 234.84L213.00 234.84 M768.00 234.84L762.50 234.84 M207.50 239.36L213.00 239.36 M768.00 239.36L762.50 239.36 M207.50 244.57L213.00 244.57 M768.00 244.57L762.50 244.57 M207.50 250.72L213.00 250.72 M768.00 250.72L762.50 250.72 M207.50 258.20L213.00 258.20 M768.00 258.20L762.50 258.20 M207.50 267.78L213.00 267.78 M768.00 267.78L762.50 267.78 M207.50 281.11L213.00 281.11 M768.00 281.11L762.50 281.11 M207.50 303.18L218.50 303.18 M768.00 303.18L757.00 303.18 M207.50 306.42L213.00 306.42 M768.00 306.42L762.50 306.42 M207.50 310.00L213.00 310.00 M768.00 310.00L762.50 310.00 M207.50 314.00L213.00 314.00 M768.00 314.00L762.50 314.00 M207.50 318.52L213.00 318.52 M768.00 318.52L762.50 318.52 M207.50 323.73L213.00 323.73 M768.00 323.73L762.50 323.73 M207.50 329.88L213.00 329.88 M768.00 329.88L762.50 329.88 M207.50 337.36L213.00 337.36 M768.00 337.36L762.50 337.36 M207.50 346.94L213.00 346.94 M768.00 346.94L762.50 346.94 M207.50 360.27L213.00 360.27 M768.00 360.27L762.50 360.27 M207.50 382.34L218.50 382.34 M768.00 382.34L757.00 382.34 M207.50 385.58L213.00 385.58 M768.00 385.58L762.50 385.58 M207.50 389.16L213.00 389.16 M768.00 389.16L762.50 389.16 M207.50 393.16L213.00 393.16 M768.00 393.16L762.50 393.16 M207.50 397.68L213.00 397.68 M768.00 397.68L762.50 397.68 M207.50 402.89L213.00 402.89 M768.00 402.89L762.50 402.89 M207.50 409.04L213.00 409.04 M768.00 409.04L762.50 409.04 M207.50 416.52L213.00 416.52 M768.00 416.52L762.50 416.52 M207.50 426.10L213.00 426.10 M768.00 426.10L762.50 426.10 M207.50 439.43L213.00 439.43 M768.00 439.43L762.50 439.43" stroke="#000" stroke-width="2.0" fill="none"/>
<rect x="207.5" y="65.7" width="560.5" height="395.8" fill="none" stroke="#000" stroke-width="2.0"/>
<line x1="245.9" y1="320.0" x2="339.9" y2="320.0" stroke="#000000" stroke-width="2"/>
<text transform="translate(362.45,325.90) scale(1.0979,1.0389)" style="font-family:'Liberation Serif',serif;font-size:29px;font-weight:bold">z</text>
<polygon points="385.9,308.75 401.5,316.00 401.5,317.40 385.9,324.65 385.9,321.95 397.0,316.70 385.9,311.45" fill="#000"/>
<text transform="translate(409.40,325.90) scale(1.0685,1.0000)" style="font-family:'Liberation Serif',serif;font-size:29px;font-weight:bold">0</text>
<line x1="245.9" y1="344.5" x2="339.9" y2="344.5" stroke="#ff0000" stroke-width="2" stroke-dasharray="2 4.55"/>
<text transform="translate(362.45,350.20) scale(1.0979,1.0389)" style="font-family:'Liberation Serif',serif;font-size:29px;font-weight:bold">z</text>
<polygon points="385.9,333.05 401.5,340.30 401.5,341.70 385.9,348.95 385.9,346.25 397.0,341.00 385.9,335.75" fill="#000"/>
<text transform="translate(409.53,350.20) scale(1.0431,1.0000)" style="font-family:'Liberation Serif',serif;font-size:29px;font-weight:bold">0.5</text>
<line x1="245.9" y1="369.1" x2="335" y2="369.1" stroke="#00a000" stroke-width="2" stroke-dasharray="9.9 8.8"/>
<text transform="translate(362.45,374.50) scale(1.0979,1.0389)" style="font-family:'Liberation Serif',serif;font-size:29px;font-weight:bold">z</text>
<polygon points="385.9,357.35 401.5,364.60 401.5,366.00 385.9,373.25 385.9,370.55 397.0,365.30 385.9,360.05" fill="#000"/>
<text transform="translate(408.83,374.50) scale(1.1442,1.0000)" style="font-family:'Liberation Serif',serif;font-size:29px;font-weight:bold">1</text>
<line x1="245.9" y1="393.7" x2="339.9" y2="393.7" stroke="#0000ff" stroke-width="2" stroke-dasharray="9.9 4.3 2.7 4.1"/>
<text transform="translate(362.45,399.10) scale(1.0979,1.0389)" style="font-family:'Liberation Serif',serif;font-size:29px;font-weight:bold">z</text>
<polygon points="385.9,381.95 401.5,389.20 401.5,390.60 385.9,397.85 385.9,395.15 397.0,389.90 385.9,384.65" fill="#000"/>
<text transform="translate(409.65,399.10) scale(1.0258,1.0000)" style="font-family:'Liberation Serif',serif;font-size:29px;font-weight:bold">3</text>
<line x1="245.9" y1="418.3" x2="339.9" y2="418.3" stroke="#ff00dc" stroke-width="2" stroke-dasharray="14.2 4.6 2.4 4.6 2.4 4.6 2.4 4.6"/>
<text transform="translate(362.45,424.00) scale(1.0979,1.0389)" style="font-family:'Liberation Serif',serif;font-size:29px;font-weight:bold">z</text>
<polygon points="385.9,406.85 401.5,414.10 401.5,415.50 385.9,422.75 385.9,420.05 397.0,414.80 385.9,409.55" fill="#000"/>
<text transform="translate(408.99,424.00) scale(1.0730,1.0000)" style="font-family:'Liberation Serif',serif;font-size:29px;font-weight:bold">10</text>

<text transform="translate(123.77,89.53) scale(0.9851,0.9940)" style="font-family:'Liberation Serif',serif;font-size:41px;stroke:#000;stroke-width:0.45px">10</text>
<text transform="translate(164.6,71.90) scale(0.97,1.0)" style="font-family:'Liberation Serif',serif;font-size:25px;stroke:#000;stroke-width:0.3px">-4</text>
<text transform="translate(123.77,158.63) scale(0.9851,0.9940)" style="font-family:'Liberation Serif',serif;font-size:41px;stroke:#000;stroke-width:0.45px">10</text>
<text transform="translate(164.6,141.00) scale(0.97,1.0)" style="font-family:'Liberation Serif',serif;font-size:25px;stroke:#000;stroke-width:0.3px">-5</text>
<text transform="translate(123.77,237.23) scale(0.9851,0.9940)" style="font-family:'Liberation Serif',serif;font-size:41px;stroke:#000;stroke-width:0.45px">10</text>
<text transform="translate(164.6,219.60) scale(0.97,1.0)" style="font-family:'Liberation Serif',serif;font-size:25px;stroke:#000;stroke-width:0.3px">-6</text>
<text transform="translate(123.77,316.53) scale(0.9851,0.9940)" style="font-family:'Liberation Serif',serif;font-size:41px;stroke:#000;stroke-width:0.45px">10</text>
<text transform="translate(164.6,298.90) scale(0.97,1.0)" style="font-family:'Liberation Serif',serif;font-size:25px;stroke:#000;stroke-width:0.3px">-7</text>
<text transform="translate(123.77,396.53) scale(0.9851,0.9940)" style="font-family:'Liberation Serif',serif;font-size:41px;stroke:#000;stroke-width:0.45px">10</text>
<text transform="translate(164.6,378.90) scale(0.97,1.0)" style="font-family:'Liberation Serif',serif;font-size:25px;stroke:#000;stroke-width:0.3px">-8</text>
<text transform="translate(123.77,462.63) scale(0.9851,0.9940)" style="font-family:'Liberation Serif',serif;font-size:41px;stroke:#000;stroke-width:0.45px">10</text>
<text transform="translate(164.6,445.00) scale(0.97,1.0)" style="font-family:'Liberation Serif',serif;font-size:25px;stroke:#000;stroke-width:0.3px">-9</text>

<text transform="translate(201.33,511.35) scale(0.9684,1.0036)" style="font-family:'Liberation Serif',serif;font-size:41px;stroke:#000;stroke-width:0.45px">1</text>
<text transform="translate(398.97,510.99) scale(1.0155,0.9815)" style="font-family:'Liberation Serif',serif;font-size:41px;stroke:#000;stroke-width:0.45px">10</text>
<text transform="translate(597.16,510.99) scale(0.9870,0.9815)" style="font-family:'Liberation Serif',serif;font-size:41px;stroke:#000;stroke-width:0.45px">100</text>

<path d="M1.8,-27.0 L10.8,-29.3 L6.2,-5.4 Q5.8,-2.6 7.6,-3.8 L9.7,-5.6 L10.3,-4.9 Q6.6,0 3.1,0 Q-0.4,0 0.3,-3.6 L4.3,-25.6 Q3.0,-26.3 1.9,-26.1 Z" transform="translate(488.0,554.0)" fill="#000"/>
<g transform="rotate(-90)">
<text transform="translate(-348.99,92.48) scale(0.9978,0.9676)" style="font-family:'Liberation Serif',serif;font-size:41px;font-weight:bold">[</text>
<path d="M1.8,-27.0 L10.8,-29.3 L6.2,-5.4 Q5.8,-2.6 7.6,-3.8 L9.7,-5.6 L10.3,-4.9 Q6.6,0 3.1,0 Q-0.4,0 0.3,-3.6 L4.3,-25.6 Q3.0,-26.3 1.9,-26.1 Z" transform="translate(-333.50,93.90) scale(0.9444,0.9898)" fill="#000"/>
<text transform="translate(-321.75,89.91) scale(0.8843,0.8811)" style="font-family:'Liberation Serif',serif;font-size:41px;font-weight:bold">(</text>
<path d="M1.8,-27.0 L10.8,-29.3 L6.2,-5.4 Q5.8,-2.6 7.6,-3.8 L9.7,-5.6 L10.3,-4.9 Q6.6,0 3.1,0 Q-0.4,0 0.3,-3.6 L4.3,-25.6 Q3.0,-26.3 1.9,-26.1 Z" transform="translate(-306.80,93.90) scale(0.9074,0.9898)" fill="#000"/>
<text transform="translate(-296.47,97.75) scale(1.0246,1.0617)" style="font-family:'Liberation Serif',serif;font-size:41px;font-weight:bold">+</text>
<text transform="translate(-274.57,93.90) scale(1.0972,0.9919)" style="font-family:'Liberation Serif',serif;font-size:41px;font-weight:bold">1</text>
<text transform="translate(-252.55,89.91) scale(0.9219,0.8811)" style="font-family:'Liberation Serif',serif;font-size:41px;font-weight:bold">)</text>
<text transform="translate(-239.36,92.48) scale(0.9759,0.9676)" style="font-family:'Liberation Serif',serif;font-size:41px;font-weight:bold">]</text>
<text transform="translate(-226.84,76.90) scale(1.0381,1.0048)" style="font-family:'Liberation Serif',serif;font-size:25px;font-weight:bold">2</text>
<text transform="translate(-212.49,93.91) scale(0.9329,1.0291)" style="font-family:'Liberation Serif',serif;font-size:41px;font-weight:bold;font-style:italic">C</text>
<text transform="translate(-186.29,75.88) scale(0.9824,1.0168)" style="font-family:'Liberation Serif',serif;font-size:25px;stroke:#000;stroke-width:0.3px">&#928;</text>
<text transform="translate(-187.03,103.70) scale(1.1832,1.0278)" style="font-family:'Liberation Serif',serif;font-size:26px;font-style:italic">l</text>
</g>
</svg>
</body></html>
